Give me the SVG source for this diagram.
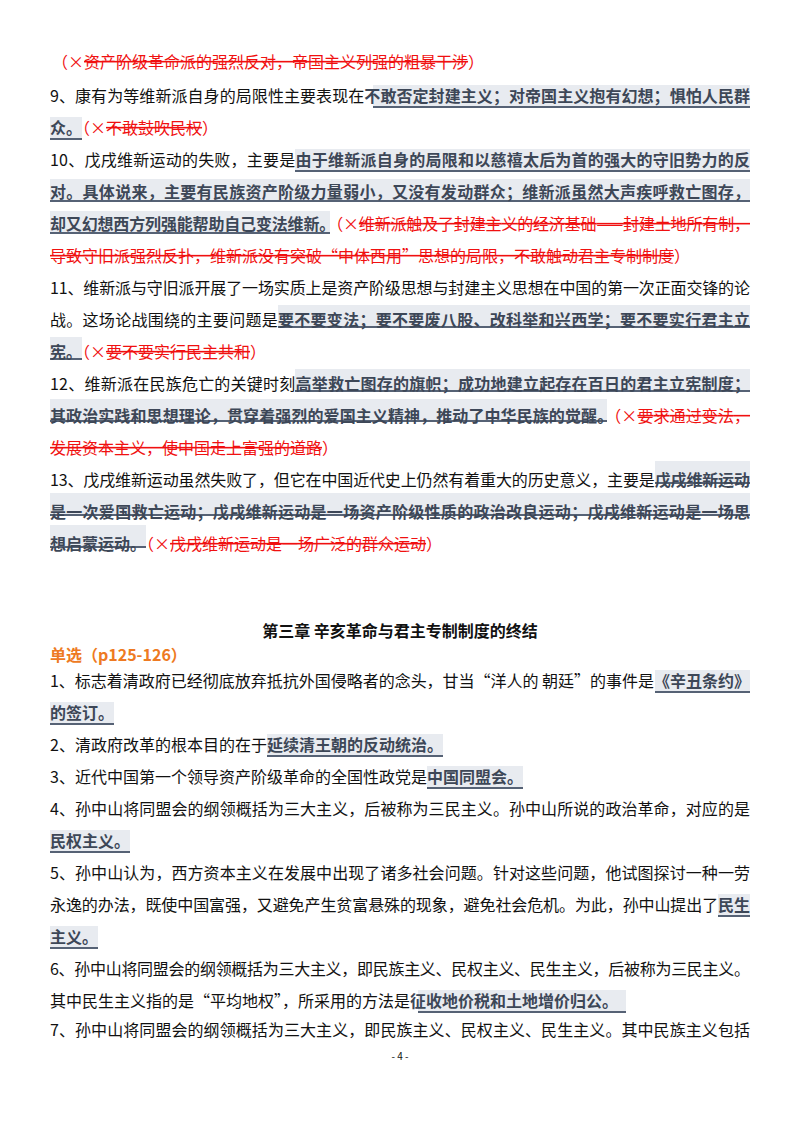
<svg xmlns="http://www.w3.org/2000/svg" width="800" height="1132" viewBox="0 0 800 1132">
<style>
text{font-family:"Noto Sans CJK SC","Liberation Sans",sans-serif;font-size:16px;fill:#111}
.h{fill:#3d4757;font-weight:bold}
.r{fill:#f01010}
.s{fill:#f01010;text-decoration:line-through}
.bg{fill:#e8ebf0}
.ul{stroke:#566275;stroke-width:2}
.t{font-weight:bold;font-size:16px}
.o{fill:#ee7a22;font-weight:bold}
.p{font-size:10px}
</style>
<rect width="800" height="1132" fill="#fff"/>
<g id="highlights">
<rect class="bg" x="373" y="85" width="377" height="22"/><line class="ul" x1="373" y1="107" x2="750" y2="107"/>
<rect class="bg" x="50" y="117" width="32" height="22"/><line class="ul" x1="50" y1="139" x2="82" y2="139"/>
<rect class="bg" x="295" y="149" width="455" height="22"/><line class="ul" x1="295" y1="171" x2="750" y2="171"/>
<rect class="bg" x="50" y="179" width="700" height="22"/><line class="ul" x1="50" y1="201" x2="750" y2="201"/>
<rect class="bg" x="50" y="211" width="280" height="22"/><line class="ul" x1="50" y1="233" x2="330" y2="233"/>
<rect class="bg" x="278" y="305" width="472" height="22"/><line class="ul" x1="278" y1="327" x2="750" y2="327"/>
<rect class="bg" x="50" y="337" width="32" height="22"/><line class="ul" x1="50" y1="359" x2="82" y2="359"/>
<rect class="bg" x="295" y="369" width="455" height="22"/><line class="ul" x1="295" y1="391" x2="750" y2="391"/>
<rect class="bg" x="50" y="399" width="557" height="22"/><line class="ul" x1="50" y1="421" x2="607" y2="421"/>
<rect class="bg" x="655" y="461" width="95" height="22"/><line class="ul" x1="655" y1="483" x2="750" y2="483"/>
<rect class="bg" x="50" y="493" width="700" height="22"/><line class="ul" x1="50" y1="515" x2="750" y2="515"/>
<rect class="bg" x="50" y="525" width="96" height="22"/><line class="ul" x1="50" y1="547" x2="146" y2="547"/>
<rect class="bg" x="655" y="670" width="95" height="22"/><line class="ul" x1="655" y1="692" x2="750" y2="692"/>
<rect class="bg" x="50" y="702" width="64" height="22"/><line class="ul" x1="50" y1="724" x2="114" y2="724"/>
<rect class="bg" x="267" y="734" width="176" height="22"/><line class="ul" x1="267" y1="756" x2="443" y2="756"/>
<rect class="bg" x="427" y="766" width="96" height="22"/><line class="ul" x1="427" y1="788" x2="523" y2="788"/>
<rect class="bg" x="50" y="830" width="80" height="22"/><line class="ul" x1="50" y1="852" x2="130" y2="852"/>
<rect class="bg" x="718" y="894" width="32" height="22"/><line class="ul" x1="718" y1="916" x2="750" y2="916"/>
<rect class="bg" x="50" y="926" width="48" height="22"/><line class="ul" x1="50" y1="948" x2="98" y2="948"/>
<rect class="bg" x="418" y="990" width="208" height="22"/><line class="ul" x1="418" y1="1012" x2="626" y2="1012"/>
</g>
<g id="text">
<text x="52" y="68"><tspan class="r">（×</tspan><tspan class="s">资产阶级革命派的强烈反对，帝国主义列强的粗暴干涉</tspan><tspan class="r">）</tspan></text>
<text x="50" y="102" textLength="700" lengthAdjust="spacing">9、康有为等维新派自身的局限性主要表现在<tspan class="h">不敢否定封建主义；对帝国主义抱有幻想；惧怕人民群</tspan></text>
<text x="50" y="134"><tspan class="h">众。</tspan><tspan class="r">（×</tspan><tspan class="s">不敢鼓吹民权</tspan><tspan class="r">）</tspan></text>
<text x="50" y="166" textLength="700" lengthAdjust="spacing">10、戊戌维新运动的失败，主要是<tspan class="h">由于维新派自身的局限和以慈禧太后为首的强大的守旧势力的反</tspan></text>
<text x="50" y="198" textLength="700" lengthAdjust="spacing" class="h">对。具体说来，主要有民族资产阶级力量弱小，又没有发动群众；维新派虽然大声疾呼救亡图存，</text>
<text x="50" y="230" textLength="700" lengthAdjust="spacing"><tspan class="h">却又幻想西方列强能帮助自己变法维新。</tspan><tspan class="r">（×</tspan><tspan class="s">维新派触及了封建主义的经济基础——封建土地所有制，</tspan></text>
<text x="50" y="262"><tspan class="s">导致守旧派强烈反扑，维新派没有突破“中体西用”思想的局限，不敢触动君主专制制度</tspan><tspan class="r">）</tspan></text>
<text x="50" y="294" textLength="700" lengthAdjust="spacing">11、维新派与守旧派开展了一场实质上是资产阶级思想与封建主义思想在中国的第一次正面交锋的论</text>
<text x="50" y="326" textLength="700" lengthAdjust="spacing">战。这场论战围绕的主要问题是<tspan class="h">要不要变法；要不要废八股、改科举和兴西学；要不要实行君主立</tspan></text>
<text x="50" y="358"><tspan class="h">宪。</tspan><tspan class="r">（×</tspan><tspan class="s">要不要实行民主共和</tspan><tspan class="r">）</tspan></text>
<text x="50" y="390" textLength="700" lengthAdjust="spacing">12、维新派在民族危亡的关键时刻<tspan class="h">高举救亡图存的旗帜；成功地建立起存在百日的君主立宪制度；</tspan></text>
<text x="50" y="422" textLength="700" lengthAdjust="spacing"><tspan class="h">其政治实践和思想理论，贯穿着强烈的爱国主义精神，推动了中华民族的觉醒。</tspan><tspan class="r">（×</tspan><tspan class="s">要求通过变法，</tspan></text>
<text x="50" y="454"><tspan class="s">发展资本主义，使中国走上富强的道路</tspan><tspan class="r">）</tspan></text>
<text x="50" y="486" textLength="700" lengthAdjust="spacing">13、戊戌维新运动虽然失败了，但它在中国近代史上仍然有着重大的历史意义，主要是<tspan class="h">戊戌维新运动</tspan></text>
<text x="50" y="518" textLength="700" lengthAdjust="spacing" class="h">是一次爱国救亡运动；戊戌维新运动是一场资产阶级性质的政治改良运动；戊戌维新运动是一场思</text>
<text x="50" y="550"><tspan class="h">想启蒙运动。</tspan><tspan class="r">（×</tspan><tspan class="s">戊戌维新运动是一场广泛的群众运动</tspan><tspan class="r">）</tspan></text>
<text x="400" y="637" text-anchor="middle" class="t">第三章 辛亥革命与君主专制制度的终结</text>
<text x="50" y="661" class="o">单选（p125-126）</text>
<text x="50" y="687" textLength="700" lengthAdjust="spacing">1、标志着清政府已经彻底放弃抵抗外国侵略者的念头，甘当“洋人的 朝廷”的事件是<tspan class="h">《辛丑条约》</tspan></text>
<text x="50" y="719"><tspan class="h">的签订。</tspan></text>
<text x="50" y="751">2、清政府改革的根本目的在于<tspan class="h">延续清王朝的反动统治。</tspan></text>
<text x="50" y="783">3、近代中国第一个领导资产阶级革命的全国性政党是<tspan class="h">中国同盟会。</tspan></text>
<text x="50" y="815" textLength="700" lengthAdjust="spacing">4、孙中山将同盟会的纲领概括为三大主义，后被称为三民主义。孙中山所说的政治革命，对应的是</text>
<text x="50" y="847"><tspan class="h">民权主义。</tspan></text>
<text x="50" y="879" textLength="700" lengthAdjust="spacing">5、孙中山认为，西方资本主义在发展中出现了诸多社会问题。针对这些问题，他试图探讨一种一劳</text>
<text x="50" y="911" textLength="700" lengthAdjust="spacing">永逸的办法，既使中国富强，又避免产生贫富悬殊的现象，避免社会危机。为此，孙中山提出了<tspan class="h">民生</tspan></text>
<text x="50" y="943"><tspan class="h">主义。</tspan></text>
<text x="50" y="975" textLength="700" lengthAdjust="spacing">6、孙中山将同盟会的纲领概括为三大主义，即民族主义、民权主义、民生主义，后被称为三民主义。</text>
<text x="50" y="1007">其中民生主义指的是“平均地权”，所采用的方法是<tspan class="h">征收地价税和土地增价归公。</tspan></text>
<text x="50" y="1036" textLength="700" lengthAdjust="spacing">7、孙中山将同盟会的纲领概括为三大主义，即民族主义、民权主义、民生主义。其中民族主义包括</text>
<text x="400" y="1060" text-anchor="middle" class="p">- 4 -</text>
</g>
</svg>
